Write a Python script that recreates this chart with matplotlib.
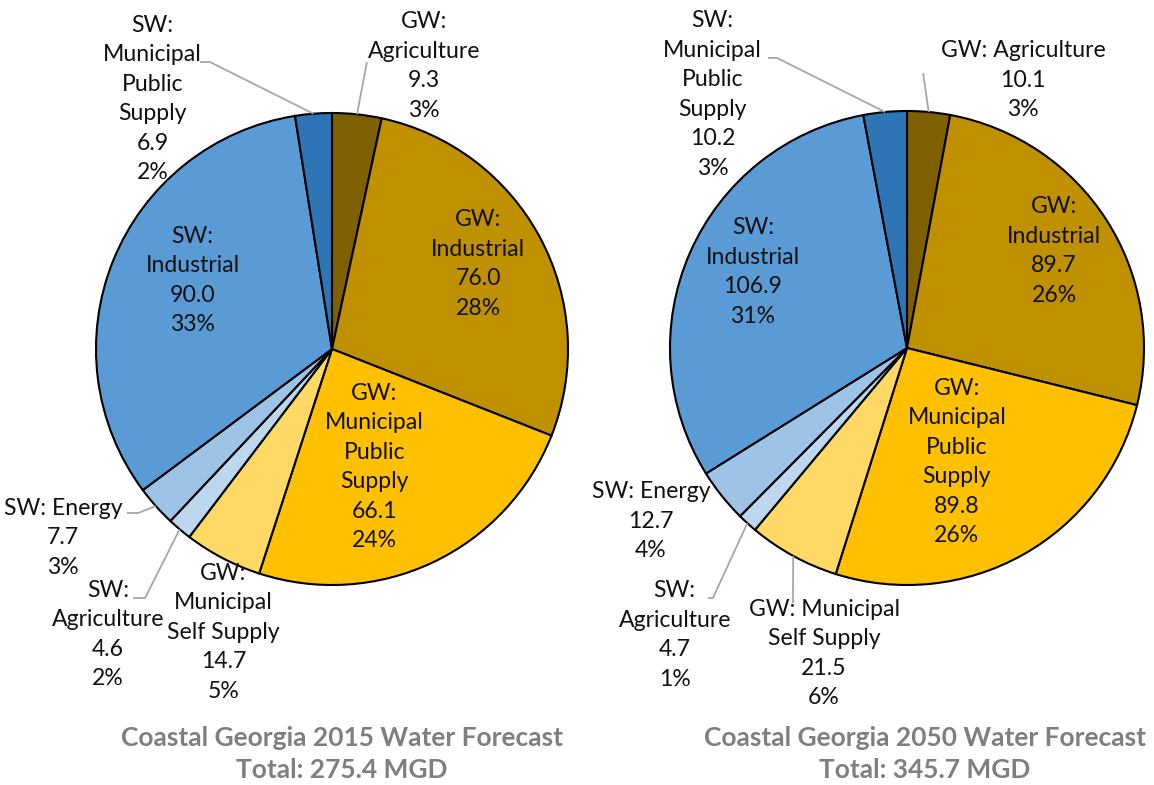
import numpy as np
import matplotlib
matplotlib.use("Agg")
import matplotlib.pyplot as plt

plt.rcParams['font.family'] = ['Lato', 'DejaVu Sans']

# categories, clockwise from 12 o'clock
categories = ["GW: Agriculture", "GW: Industrial", "GW: Municipal Public Supply",
              "GW: Municipal Self Supply", "SW: Agriculture", "SW: Energy",
              "SW: Industrial", "SW: Municipal Public Supply"]
values_2015 = [9.3, 76.0, 66.1, 14.7, 4.6, 7.7, 90.0, 6.9]
values_2050 = [10.1, 89.7, 89.8, 21.5, 4.7, 12.7, 106.9, 10.2]
pct_2015 = [3, 28, 24, 5, 2, 3, 33, 2]
pct_2050 = [3, 26, 26, 6, 1, 4, 31, 3]
titles = ["Coastal Georgia 2015 Water Forecast\nTotal: 275.4 MGD",
          "Coastal Georgia 2050 Water Forecast\nTotal: 345.7 MGD"]
colors = ["#7F6000", "#BF9000", "#FFC000", "#FFD966",
          "#BDD7EE", "#9DC3E6", "#5B9BD5", "#2E75B6"]

# how the category name is wrapped in each chart
names_2015 = ["GW:\nAgriculture", "GW:\nIndustrial", "GW:\nMunicipal\nPublic\nSupply",
              "GW:\nMunicipal\nSelf Supply", "SW:\nAgriculture", "SW: Energy",
              "SW:\nIndustrial", "SW:\nMunicipal\nPublic\nSupply"]
names_2050 = ["GW: Agriculture", "GW:\nIndustrial", "GW:\nMunicipal\nPublic\nSupply",
              "GW: Municipal\nSelf Supply", "SW:\nAgriculture", "SW: Energy",
              "SW:\nIndustrial", "SW:\nMunicipal\nPublic\nSupply"]

# label centres, in units of the pie radius
pos_2015 = [(0.39, 1.20), (0.62, 0.36), (0.18, -0.50), (-0.46, -1.20),
            (-0.95, -1.21), (-1.14, -0.80), (-0.59, 0.29), (-0.76, 1.06)]
pos_2050 = [(0.49, 1.13), (0.62, 0.41), (0.21, -0.48), (-0.35, -1.29),
            (-0.98, -1.21), (-1.08, -0.73), (-0.65, 0.32), (-0.82, 1.07)]

# leader lines: slice index -> points from label end toward the pie
leaders_2015 = {0: [(0.148, 1.216)],
                7: [(-0.559, 1.216), (-0.517, 1.216)],
                5: [(-0.869, -0.695), (-0.822, -0.695)],
                4: [(-0.843, -1.055), (-0.792, -1.055)]}
leaders_2050 = {0: [(0.068, 1.160)],
                7: [(-0.586, 1.224), (-0.549, 1.224)],
                4: [(-0.840, -1.055), (-0.819, -1.055)],
                3: [(-0.481, -1.076)]}

W, H = 1154, 785
fig = plt.figure(figsize=(W / 100, H / 100), dpi=100)


def draw_pie(rect, values, pcts, names, pos, leaders):
    ax = fig.add_axes(rect)
    ax.pie(values, colors=colors, startangle=90, counterclock=False, radius=1,
           wedgeprops=dict(edgecolor="black", linewidth=1.5))
    ax.set_xlim(-1, 1)
    ax.set_ylim(-1, 1)
    ax.set_aspect("auto")
    ax.axis("off")

    total = sum(values)
    cum = np.cumsum(values) - np.array(values) / 2
    for i, v in enumerate(values):
        txt = f"{names[i]}\n{v:.1f}\n{pcts[i]}%"
        ax.text(pos[i][0], pos[i][1], txt, ha="center", va="center",
                fontsize=16.6, color="#111111", linespacing=1.50, clip_on=False)
        if i in leaders:
            ang = 2 * np.pi * cum[i] / total
            pts = leaders[i] + [(np.sin(ang), np.cos(ang))]
            xs, ys = zip(*pts)
            ax.plot(xs, ys, color="#A6A6A6", lw=1.3, clip_on=False,
                    solid_capstyle="butt")
    return ax


draw_pie([96 / W, 200 / H, 472 / W, 472 / H], values_2015, pct_2015, names_2015,
         pos_2015, leaders_2015)
draw_pie([670 / W, 200 / H, 474 / W, 474 / H], values_2050, pct_2050, names_2050,
         pos_2050, leaders_2050)

fig.text(342 / W, 1 - 754 / H, titles[0], ha="center", va="center",
         fontsize=19, fontweight="bold", color="#7F7F7F", linespacing=1.4)
fig.text(925 / W, 1 - 754 / H, titles[1], ha="center", va="center",
         fontsize=19, fontweight="bold", color="#7F7F7F", linespacing=1.4)

fig.savefig("out.png", dpi=100, facecolor="white")
